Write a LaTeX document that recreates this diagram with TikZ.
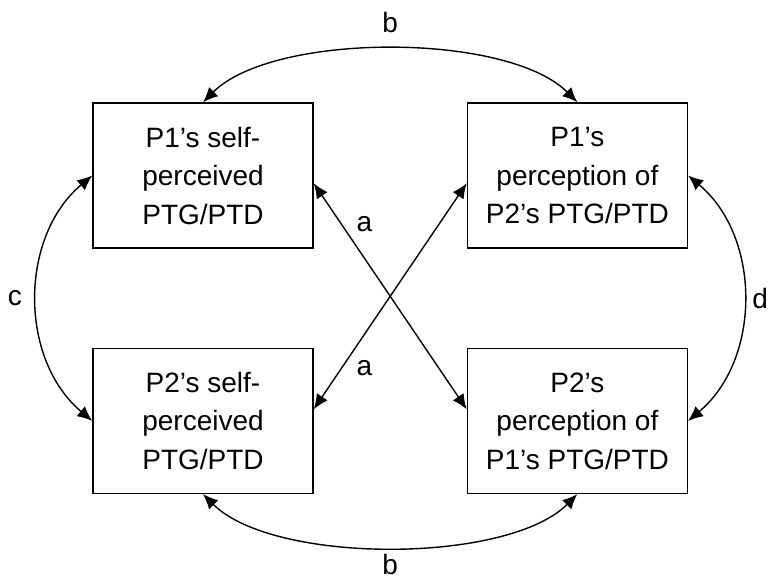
\documentclass[tikz,border=0pt]{standalone}
\usepackage{fontspec}
\setmainfont{Liberation Sans}
\usetikzlibrary{arrows.meta,positioning}

\begin{document}
\begin{tikzpicture}[
    x=0.5pt, y=-0.5pt,
    font=\fontsize{14pt}{19.25pt}\selectfont,
    node distance=49.5pt and 76.5pt,
    box/.style={rectangle, draw, line width=0.7pt, minimum width=110pt, minimum height=72.5pt, align=center, inner sep=0pt},
    link/.style={{Latex[length=7.5pt,width=6.5pt]}-{Latex[length=7.5pt,width=6.5pt]}, line width=0.7pt}
]
\useasboundingbox (0,0) rectangle (769,578);

% Boxes
\node[box] (tl) at (203,175.5) {P1’s self-\\perceived\\PTG/PTD};
\node[box, right=of tl] (tr) {P1’s\\perception of\\P2’s PTG/PTD};
\node[box, below=of tl] (bl) {P2’s self-\\perceived\\PTG/PTD};
\node[box, below=of tr] (br) {P2’s\\perception of\\P1’s PTG/PTD};

% Curved arrows
\draw[link] (tl.north) to[bend left=45, looseness=0.68] node[midway, above=5pt] {b} (tr.north);
\draw[link] (bl.south) to[bend right=45, looseness=0.68] node[midway, below=0pt] {b} (br.south);
\draw[link] (tl.west) to[bend right=50, looseness=1] node[midway, left=4pt] {c} (bl.west);
\draw[link] (tr.east) to[bend left=50, looseness=1] node[midway, right=1pt] {d} (br.east);

% Cross arrows
\draw[link] (tl.-4) -- node[pos=0.18, right=4pt] {a} (br.174);
\draw[link] (tr.184) -- node[pos=0.82, right=4pt] {a} (bl.6);

\end{tikzpicture}
\end{document}
